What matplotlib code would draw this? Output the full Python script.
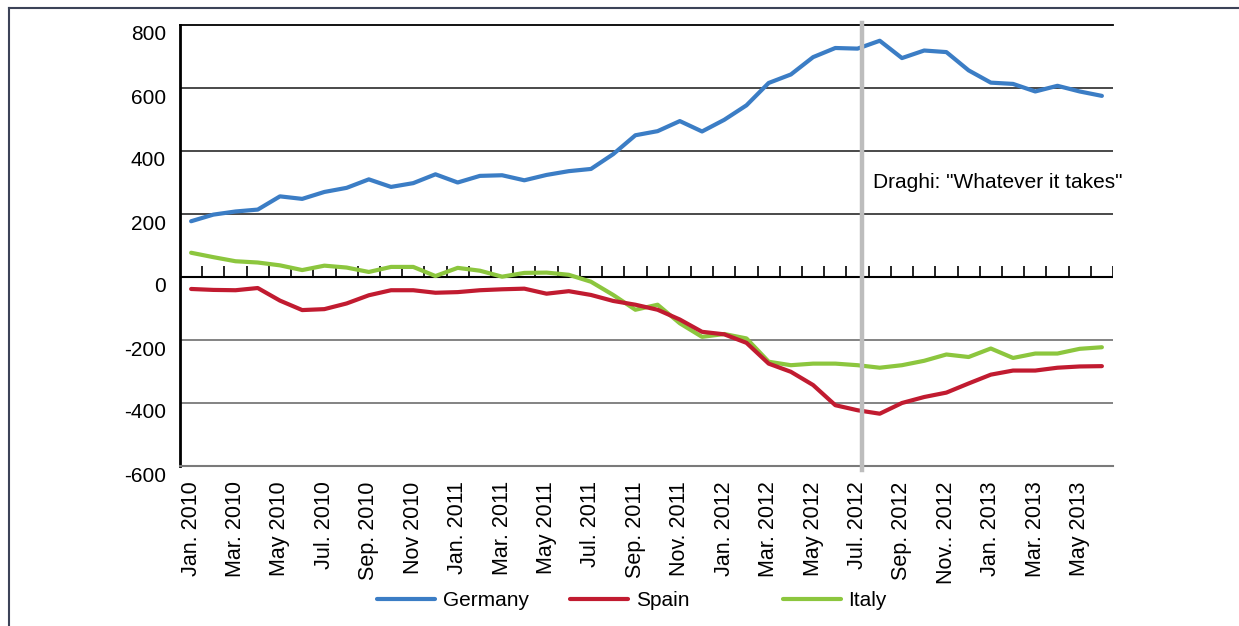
import matplotlib
matplotlib.use("Agg")
import matplotlib.pyplot as plt
import matplotlib.transforms as mtransforms
from matplotlib.lines import Line2D
import numpy as np

# months Jan 2010 .. Jun 2013
months = ["Jan. 2010", "Feb. 2010", "Mar. 2010", "Apr. 2010", "May 2010", "Jun. 2010",
          "Jul. 2010", "Aug. 2010", "Sep. 2010", "Oct. 2010", "Nov 2010", "Dec. 2010",
          "Jan. 2011", "Feb. 2011", "Mar. 2011", "Apr. 2011", "May 2011", "Jun. 2011",
          "Jul. 2011", "Aug. 2011", "Sep. 2011", "Oct. 2011", "Nov. 2011", "Dec. 2011",
          "Jan. 2012", "Feb. 2012", "Mar. 2012", "Apr. 2012", "May 2012", "Jun. 2012",
          "Jul. 2012", "Aug. 2012", "Sep. 2012", "Oct. 2012", "Nov.. 2012", "Dec. 2012",
          "Jan. 2013", "Feb. 2013", "Mar. 2013", "Apr. 2013", "May 2013", "Jun. 2013"]

germany = [177, 198, 208, 214, 256, 248, 270, 283, 310, 286, 298, 326,
           300, 321, 323, 307, 324, 336, 343, 390, 450, 463, 495, 462,
           499, 545, 616, 643, 698, 727, 725, 750, 695, 719, 714, 656,
           617, 613, 589, 607, 589, 575]
spain = [-38, -41, -42, -35, -75, -105, -102, -84, -58, -42, -42, -50,
         -48, -42, -39, -37, -53, -45, -57, -76, -88, -104, -135, -174,
         -182, -209, -275, -301, -343, -407, -423, -434, -400, -381, -367, -338,
         -310, -297, -297, -288, -284, -283]
italy = [77, 63, 50, 46, 37, 22, 36, 30, 16, 32, 32, 3,
         29, 20, 1, 13, 14, 7, -15, -57, -104, -88, -147, -190,
         -181, -195, -269, -280, -275, -275, -280, -288, -280, -266, -246, -254,
         -227, -257, -243, -243, -228, -223]

draghi_pos = 30.2  # Jul. 2012
draghi_text = 'Draghi: "Whatever it takes"'

c_de = "#3b7dc5"
c_es = "#c11b30"
c_it = "#8cc63e"

tick_font = ["Liberation Sans", "DejaVu Sans"]

fig = plt.figure(figsize=(12.39, 6.26), dpi=100)
ax = fig.add_axes([180/1239, 1-466/626, (1113-180)/1239, (466-25)/626])

x = np.arange(len(months))
l_de, = ax.plot(x, germany, color=c_de, lw=3, label="Germany", solid_capstyle="round", zorder=4)
l_es, = ax.plot(x, spain, color=c_es, lw=3, label="Spain", solid_capstyle="round", zorder=4)
l_it, = ax.plot(x, italy, color=c_it, lw=3, label="Italy", solid_capstyle="round", zorder=3)

ax.set_xlim(-0.5, len(months) - 0.5)
ax.set_ylim(-600, 800)

# grid lines
for yv in [600, 400, 200]:
    ax.axhline(yv, color="#3a3a3a", lw=1.3, zorder=1)
for yv in [-200, -400]:
    ax.axhline(yv, color="#7a7a7a", lw=1.3, zorder=1)
ax.axhline(0, color="black", lw=1.5, zorder=2)
# small category ticks on the zero line
ax.vlines(x + 0.5, 0, 35, color="black", lw=1.2, zorder=2)

ax.spines["right"].set_visible(False)
ax.spines["top"].set_color("black")
ax.spines["top"].set_linewidth(1.3)
ax.spines["left"].set_color("black")
ax.spines["left"].set_linewidth(2)
ax.spines["bottom"].set_color("#7a7a7a")
ax.spines["bottom"].set_linewidth(1.5)

# Draghi line
ax.axvline(draghi_pos, ymin=-0.01, ymax=1.005, color="#bdbdbd", lw=3.2, zorder=5, clip_on=False)
ax.text(draghi_pos + 0.5, 300, draghi_text, fontsize=15, family=tick_font,
        va="center", ha="left", zorder=6)

ax.set_yticks([800, 600, 400, 200, 0, -200, -400, -600])
ax.set_yticklabels(["800", "600", "400", "200", "0", "-200", "-400", "-600"])
ax.tick_params(axis="y", length=0, pad=10, labelsize=15)
offset = mtransforms.ScaledTranslation(0, -8/100, fig.dpi_scale_trans)
for lab in ax.get_yticklabels():
    lab.set_transform(lab.get_transform() + offset)
    lab.set_family(tick_font)

ax.set_xticks(x[::2])
ax.set_xticklabels(months[::2], rotation=90)
ax.tick_params(axis="x", length=0, pad=11, labelsize=15.5)
for lab in ax.get_xticklabels():
    lab.set_family(tick_font)

# legend entries placed like the original (uneven spacing)
for line, xl in [(l_de, 377), (l_es, 570), (l_it, 783)]:
    fig.legend([line], [line.get_label()], loc="center left", bbox_to_anchor=(xl/1239, 1-601/626),
               frameon=False, borderaxespad=0, borderpad=0, handlelength=2.8, handletextpad=0.35,
               prop={"family": tick_font, "size": 15})

# outer frame
fig.add_artist(Line2D([9/1239, 1], [1-8/626, 1-8/626], color="#3c4358", lw=1.5))
fig.add_artist(Line2D([9/1239, 9/1239], [0, 1-8/626], color="#3c4358", lw=1.5))

fig.savefig("out.png", dpi=100)
